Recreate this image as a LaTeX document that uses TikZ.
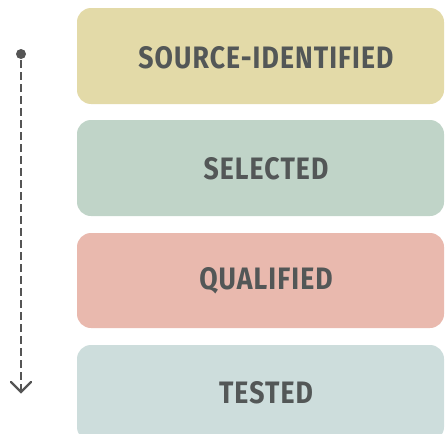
\documentclass[tikz,border=0pt]{standalone}
\usepackage{fontspec}
\setmainfont{Fira Sans}
\usetikzlibrary{arrows.meta}
\definecolor{cA}{HTML}{E3DAA8}
\definecolor{cB}{HTML}{C0D4C8}
\definecolor{cC}{HTML}{E9B9AE}
\definecolor{cD}{HTML}{CDDDDC}
\definecolor{txt}{HTML}{535757}
\definecolor{ln}{HTML}{555555}
\newfontfamily\labfont[LetterSpace=4]{Fira Sans Bold}
\tikzset{
  stagebox/.style={rounded corners=14pt, draw=none},
  stagelabel/.style={text=txt, font=\labfont\fontsize{31}{31}\selectfont, inner sep=0pt, anchor=center},
}
\newcommand{\cond}[1]{\scalebox{0.86}[1]{#1}}
\begin{document}
\begin{tikzpicture}[x=1pt,y=-1pt]
\useasboundingbox (0,0) rectangle (445,434);
\fill[stagebox, cA] (77,8) rectangle (444,104);
\fill[stagebox, cB] (77,120) rectangle (444,216);
\fill[stagebox, cC] (77,233) rectangle (444,328);
\begin{scope}
\clip (0,0) rectangle (445,434);
\fill[stagebox, cD] (77,345) rectangle (444,441);
\end{scope}
\node[stagelabel] (s1) at (266,58) {\cond{SOURCE-IDENTIFIED}};
\node[stagelabel] (s2) at (266,168.5) {\cond{SELECTED}};
\node[stagelabel] (s3) at (266,281) {\cond{QUALIFIED}};
\node[stagelabel] (s4) at (266,393) {\cond{TESTED}};
\coordinate (top) at (21,54);
\coordinate (bot) at (21,392);
\fill[ln] (top) circle (5);
\draw[ln, line width=2.4pt, dash pattern=on 8pt off 4pt] (21,60) -- (21,390);
\draw[ln, line width=2.4pt, line cap=round, line join=miter] (11,382) -- (bot) -- (31,382);
\end{tikzpicture}
\end{document}
